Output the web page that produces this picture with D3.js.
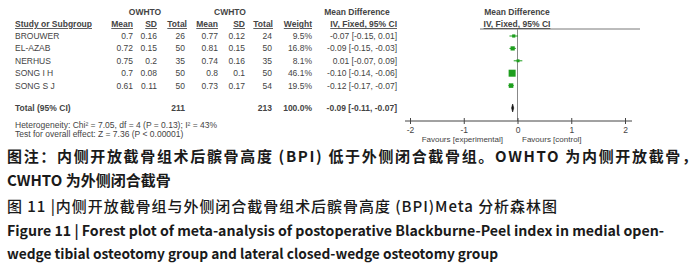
<!DOCTYPE html>
<html>
<head>
<meta charset="utf-8">
<script src="https://cdn.jsdelivr.net/npm/d3@7"></script>
<style>
  body { margin: 0; background: #fff; }
  svg { display: block; }
</style>
</head>
<body>
<svg width="700" height="267"></svg>
<script>
// study rows
const studies = ["BROUWER", "EL-AZAB", "NERHUS", "SONG I H", "SONG S J"];
const owMean = [0.7, 0.72, 0.75, 0.7, 0.61];
const owSD = [0.16, 0.15, 0.2, 0.08, 0.11];
const owN = [26, 50, 35, 50, 50];
const cwMean = [0.77, 0.81, 0.74, 0.8, 0.73];
const cwSD = [0.12, 0.15, 0.16, 0.1, 0.17];
const cwN = [24, 50, 35, 50, 54];
const weights = [9.5, 16.8, 8.1, 46.1, 19.5];
const md = [-0.07, -0.09, 0.01, -0.10, -0.12];
const ciLo = [-0.15, -0.15, -0.07, -0.14, -0.17];
const ciHi = [0.01, -0.03, 0.09, -0.06, -0.07];
// pooled: md, lo, hi
const totalMD = [-0.09, -0.11, -0.07];
const totalN = [211, 213];
const xTicks = [-2, -1, 0, 1, 2];

const svg = d3.select("svg");
svg.append("rect").attr("width", 700).attr("height", 267).attr("fill", "#fff");

const f2 = v => (v < 0 ? "-" : "") + Math.abs(v).toFixed(2);
const ciText = (m, l, h) => `${f2(m)} [${f2(l)}, ${f2(h)}]`;

const x = d3.scaleLinear().domain([-2, 2]).range([410, 625]);
const y = d3.scalePoint().domain(studies).range([36, 85.6]);
const yTotal = 108;
const boxSize = d3.scaleSqrt().domain([0, 46.1]).range([0, 7]);

const txtCol = "#444";
const fs = "8.5px";
const tbl = svg.append("g")
  .attr("font-family", "Liberation Sans, Arial, sans-serif")
  .attr("font-size", fs)
  .attr("fill", txtCol);

// header rows
const hdr1 = [["OWHTO", 145], ["CWHTO", 230], ["Mean Difference", 357], ["Mean Difference", 517]];
tbl.selectAll(".h1").data(hdr1).join("text")
  .attr("x", d => d[1]).attr("y", 15)
  .attr("text-anchor", "middle").attr("font-weight", "bold")
  .text(d => d[0]);

const hdr2 = [
  ["Study or Subgroup", 15, "start"], ["Mean", 133, "end"], ["SD", 157, "end"],
  ["Total", 187, "end"], ["Mean", 218, "end"], ["SD", 245, "end"],
  ["Total", 273, "end"], ["Weight", 312, "end"], ["IV, Fixed, 95% CI", 397, "end"],
  ["IV, Fixed, 95% CI", 517, "middle"]
];
tbl.selectAll(".h2").data(hdr2).join("text")
  .attr("x", d => d[1]).attr("y", 27)
  .attr("text-anchor", d => d[2]).attr("font-weight", "bold")
  .attr("text-decoration", "underline")
  .text(d => d[0]);

// plot header line
svg.append("line")
  .attr("x1", 480).attr("x2", 640).attr("y1", 29).attr("y2", 29)
  .attr("stroke", "#555").attr("stroke-width", 0.8);

// study rows
const cols = [
  [i => studies[i], 15, "start"],
  [i => String(owMean[i]), 133, "end"],
  [i => String(owSD[i]), 157, "end"],
  [i => String(owN[i]), 185, "end"],
  [i => String(cwMean[i]), 218, "end"],
  [i => String(cwSD[i]), 245, "end"],
  [i => String(cwN[i]), 272, "end"],
  [i => weights[i].toFixed(1) + "%", 312, "end"],
  [i => ciText(md[i], ciLo[i], ciHi[i]), 397, "end"]
];
studies.forEach((s, i) => {
  cols.forEach(c => {
    tbl.append("text")
      .attr("x", c[1]).attr("y", y(s) + 3)
      .attr("text-anchor", c[2])
      .text(c[0](i));
  });
});

// total row
const totalCells = [
  ["Total (95% CI)", 15, "start"], [String(totalN[0]), 185, "end"],
  [String(totalN[1]), 272, "end"], ["100.0%", 312, "end"],
  [ciText(totalMD[0], totalMD[1], totalMD[2]), 397, "end"]
];
tbl.selectAll(".tot").data(totalCells).join("text")
  .attr("x", d => d[1]).attr("y", yTotal + 3)
  .attr("text-anchor", d => d[2]).attr("font-weight", "bold")
  .text(d => d[0]);

tbl.append("text").attr("x", 15).attr("y", 128)
  .text("Heterogeneity: Chi\u00b2 = 7.05, df = 4 (P = 0.13); I\u00b2 = 43%");
tbl.append("text").attr("x", 15).attr("y", 137)
  .text("Test for overall effect: Z = 7.36 (P < 0.00001)");

// zero line
svg.append("line")
  .attr("x1", x(0)).attr("x2", x(0)).attr("y1", 29).attr("y2", 121)
  .attr("stroke", "#888").attr("stroke-width", 1);

// CI lines and boxes
const green = "#1e9e1e";
svg.selectAll(".ci").data(studies).join("line")
  .attr("x1", (d, i) => x(ciLo[i])).attr("x2", (d, i) => x(ciHi[i]))
  .attr("y1", d => y(d)).attr("y2", d => y(d))
  .attr("stroke", green).attr("stroke-width", 1);
svg.selectAll(".box").data(studies).join("rect")
  .attr("x", (d, i) => x(md[i]) - boxSize(weights[i]) / 2)
  .attr("y", (d, i) => y(d) - boxSize(weights[i]) / 2)
  .attr("width", (d, i) => boxSize(weights[i]))
  .attr("height", (d, i) => boxSize(weights[i]))
  .attr("fill", green);

// pooled diamond
svg.append("path")
  .attr("d", `M${x(totalMD[1])},${yTotal} L${x(totalMD[0])},${yTotal - 4} L${x(totalMD[2])},${yTotal} L${x(totalMD[0])},${yTotal + 4} Z`)
  .attr("fill", "#111").attr("stroke", "#111").attr("stroke-width", 0.6);

// axis
const axisY = 121;
const ax = svg.append("g")
  .attr("transform", `translate(0,${axisY})`)
  .call(d3.axisBottom(x).tickValues(xTicks).tickSize(3).tickPadding(3).tickFormat(d => String(d)));
ax.select(".domain").remove();
ax.selectAll(".tick line").attr("y1", -3).attr("stroke", "#444");
ax.selectAll(".tick text")
  .attr("font-family", "Liberation Sans, Arial, sans-serif")
  .attr("font-size", fs).attr("fill", txtCol);
ax.append("line")
  .attr("x1", x.range()[0] - 5).attr("x2", x.range()[1] + 7)
  .attr("stroke", "#444").attr("stroke-width", 1);

tbl.append("text").attr("x", 503).attr("y", 142).attr("text-anchor", "end")
  .attr("font-size", "8px").text("Favours [experimental]");
tbl.append("text").attr("x", 522).attr("y", 142)
  .attr("font-size", "8px").text("Favours [control]");

// caption
const cap = svg.append("g").attr("fill", "#1a1a1a");
const cjk = "'Noto Sans CJK SC', 'Noto Sans', sans-serif";
cap.append("text").attr("x", 7).attr("y", 162)
  .attr("font-family", cjk).attr("font-size", "15px").attr("font-weight", "bold")
  .attr("textLength", 690).attr("lengthAdjust", "spacing")
  .text("图注：内侧开放截骨组术后髌骨高度 (BPI) 低于外侧闭合截骨组。OWHTO 为内侧开放截骨，");
cap.append("text").attr("x", 7).attr("y", 186)
  .attr("font-family", cjk).attr("font-size", "15px").attr("font-weight", "bold")
  .text("CWHTO 为外侧闭合截骨");
cap.append("text").attr("x", 7).attr("y", 212)
  .attr("font-family", cjk).attr("font-size", "15px").attr("font-weight", "500")
  .attr("textLength", 550).attr("lengthAdjust", "spacing")
  .text("图 11 |内侧开放截骨组与外侧闭合截骨组术后髌骨高度 (BPI)Meta 分析森林图");
cap.append("text").attr("x", 7).attr("y", 236)
  .attr("font-family", cjk).attr("font-size", "14px").attr("font-weight", "bold")
  .attr("textLength", 657).attr("lengthAdjust", "spacingAndGlyphs")
  .text("Figure 11  |  Forest plot of meta-analysis of postoperative Blackburne-Peel index in medial open-");
cap.append("text").attr("x", 7).attr("y", 259)
  .attr("font-family", cjk).attr("font-size", "14px").attr("font-weight", "bold")
  .attr("textLength", 491).attr("lengthAdjust", "spacingAndGlyphs")
  .text("wedge tibial osteotomy group and lateral closed-wedge osteotomy group");
</script>
</body>
</html>
